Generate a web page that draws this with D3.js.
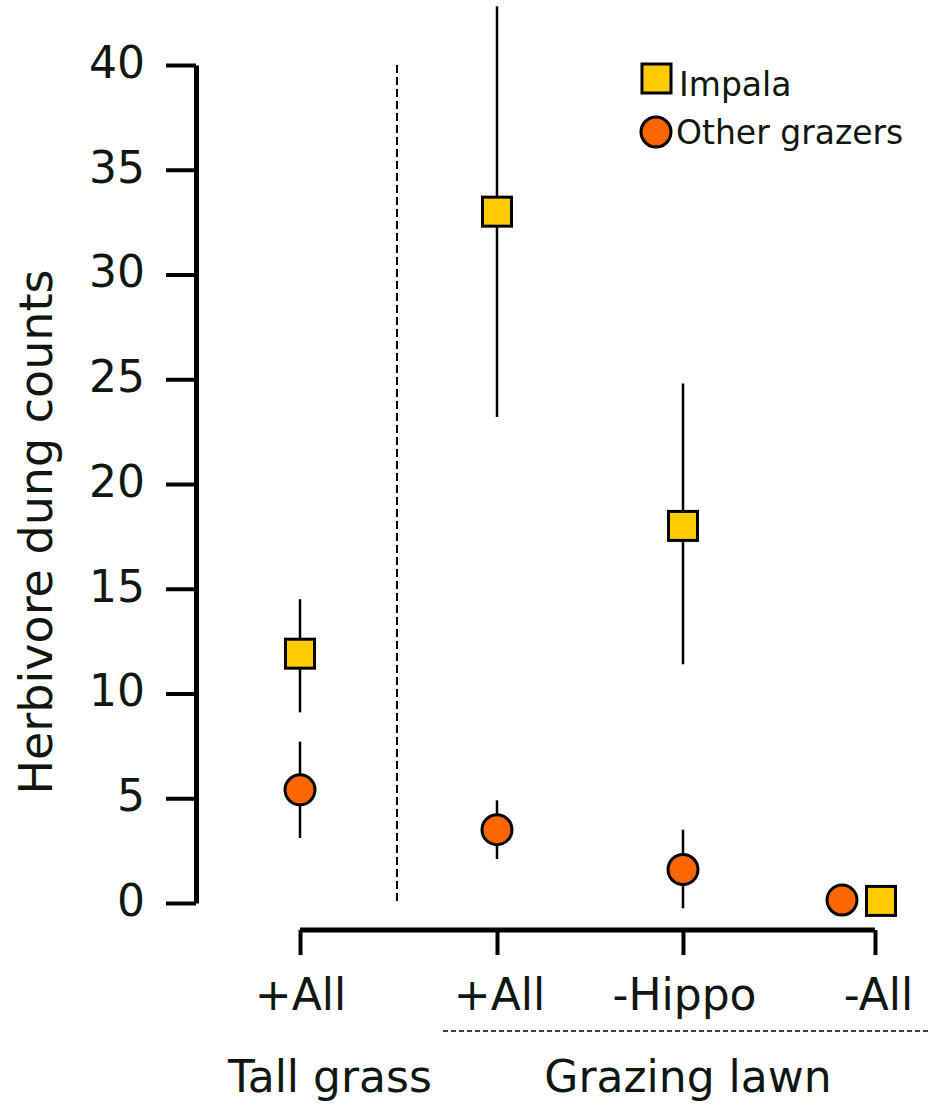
<!DOCTYPE html>
<html>
    <head>
        <title>Herbivore dung counts</title>
        <meta charset="UTF-8">
        <style>
            body {margin:0; background:#fff;}
            text {font-family:"DejaVu Sans", sans-serif; fill:#0f170f;}
            .axis line, .axis path {stroke:#000;}
        </style>
        <script src="https://cdn.jsdelivr.net/npm/d3@7"></script>
    </head>
    <body>
        <svg width="928" height="1105"></svg>

        <script>
            //... data
            var treatments = ["+All", "+All ", "-Hippo", "-All"];
            var habitats = ["Tall grass", "Grazing lawn"];
            var impala = [11.9, 33.0, 18.0, 0.1];
            var impalaLo = [9.1, 23.2, 11.4, null];
            var impalaHi = [14.5, 42.8, 24.8, null];
            var others = [5.4, 3.5, 1.6, 0.14];
            var othersLo = [3.1, 2.1, -0.25, null];
            var othersHi = [7.7, 4.9, 3.5, null];
            var yTicks = [0, 5, 10, 15, 20, 25, 30, 35, 40];

            var svg = d3.select("svg");
            var gold = "#ffcc00", orange = "#ff6600";

            var x = d3.scaleOrdinal().domain(treatments).range([300, 497, 683, 875]);
            var y = d3.scaleLinear().domain([0, 40]).range([903, 65]);

            //... markers of the last treatment sit side by side
            function dx(i, series) {
                if (i < treatments.length - 1) return 0;
                return series == "impala" ? 6 : -33;
            }

            //... y axis
            var yAxis = svg.append("g").attr("class", "axis")
                .attr("transform", "translate(196,0)")
                .call(d3.axisLeft(y).tickValues(yTicks).tickSize(30).tickSizeOuter(0).tickPadding(21));
            yAxis.select(".domain").attr("stroke-width", 5);
            yAxis.selectAll(".tick line").attr("stroke-width", 4);
            yAxis.selectAll(".tick text").attr("font-size", 44).attr("fill", "#0f170f")
                .attr("font-family", "DejaVu Sans").attr("dy", "0.28em");

            //... x axis
            var xAxis = svg.append("g").attr("class", "axis")
                .attr("transform", "translate(0,930)")
                .call(d3.axisBottom(x).tickSize(25).tickSizeOuter(0).tickPadding(20)
                    .tickFormat(d => d.trim()));
            xAxis.select(".domain").attr("stroke-width", 5)
                .attr("d", "M" + x(treatments[0]) + ",0H" + x(treatments[3]));
            xAxis.selectAll(".tick line").attr("stroke-width", 4);
            xAxis.selectAll(".tick text").attr("font-size", 44).attr("fill", "#0f170f")
                .attr("font-family", "DejaVu Sans").attr("dy", "0.8em")
                .attr("dx", (d, i) => [0, 2, 1, 3][i]);

            //... divider between habitats
            svg.append("line")
                .attr("x1", 397).attr("x2", 397).attr("y1", y(40)).attr("y2", y(-0.1))
                .attr("stroke", "#000").attr("stroke-width", 2).attr("stroke-dasharray", "8,4");
            svg.append("line")
                .attr("x1", 443).attr("x2", 928).attr("y1", 1031).attr("y2", 1031)
                .attr("stroke", "#000").attr("stroke-width", 1.5).attr("stroke-dasharray", "5,3");

            svg.selectAll(".habitat").data(habitats).enter().append("text")
                .attr("class", "habitat")
                .attr("x", (d, i) => [330, 688][i]).attr("y", 1092)
                .attr("text-anchor", "middle").attr("font-size", 44)
                .text(d => d);

            //... axis title
            svg.append("text")
                .attr("transform", "translate(52,532) rotate(-90)")
                .attr("text-anchor", "middle").attr("font-size", 46)
                .text("Herbivore dung counts");

            //... error bars
            var bars = svg.append("g");
            treatments.forEach(function(t, i) {
                if (impalaLo[i] != null)
                    bars.append("line").attr("x1", x(t)).attr("x2", x(t))
                        .attr("y1", y(impalaLo[i])).attr("y2", y(impalaHi[i]))
                        .attr("stroke", "#000").attr("stroke-width", 2.5);
                if (othersLo[i] != null)
                    bars.append("line").attr("x1", x(t)).attr("x2", x(t))
                        .attr("y1", y(othersLo[i])).attr("y2", y(othersHi[i]))
                        .attr("stroke", "#000").attr("stroke-width", 2.5);
            });

            //... points
            svg.append("g").selectAll("circle").data(others).enter().append("circle")
                .attr("cx", (d, i) => x(treatments[i]) + dx(i, "others"))
                .attr("cy", d => y(d))
                .attr("r", 15)
                .attr("fill", orange).attr("stroke", "#000").attr("stroke-width", 3);

            svg.append("g").selectAll("rect").data(impala).enter().append("rect")
                .attr("x", (d, i) => x(treatments[i]) + dx(i, "impala") - 14.5)
                .attr("y", d => y(d) - 14.5)
                .attr("width", 29).attr("height", 29)
                .attr("fill", gold).attr("stroke", "#000").attr("stroke-width", 3);

            //... legend
            var legend = svg.append("g");
            legend.append("rect").attr("x", 642).attr("y", 64).attr("width", 29).attr("height", 29)
                .attr("fill", gold).attr("stroke", "#000").attr("stroke-width", 3);
            legend.append("text").attr("x", 679).attr("y", 96).attr("font-size", 33).text("Impala");
            legend.append("circle").attr("cx", 656).attr("cy", 132).attr("r", 15)
                .attr("fill", orange).attr("stroke", "#000").attr("stroke-width", 3);
            legend.append("text").attr("x", 676).attr("y", 144).attr("font-size", 33).text("Other grazers");
        </script>
    </body>
</html>
